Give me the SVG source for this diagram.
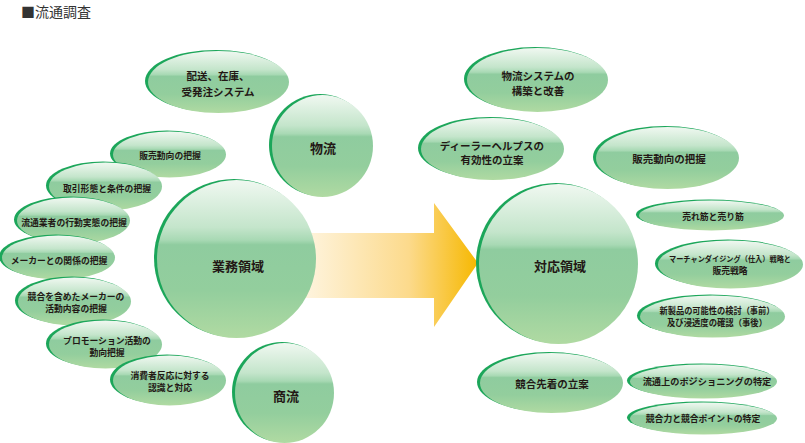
<svg xmlns="http://www.w3.org/2000/svg" width="805" height="443" viewBox="0 0 805 443">
<defs>
<linearGradient id="gg" x1="0" y1="0" x2="0" y2="1">
<stop offset="0" stop-color="#f0f8f1"/>
<stop offset="0.3" stop-color="#c4e5cb"/>
<stop offset="0.38" stop-color="#a8d9b4"/>
<stop offset="0.41" stop-color="#8fcc9f"/>
<stop offset="0.7" stop-color="#93ce9d"/>
<stop offset="1" stop-color="#b0daa2"/>
</linearGradient>
<linearGradient id="ag" gradientUnits="userSpaceOnUse" x1="305" y1="0" x2="478" y2="0">
<stop offset="0" stop-color="#fef4de"/>
<stop offset="0.6" stop-color="#fcda8c"/>
<stop offset="1" stop-color="#f6b800"/>
</linearGradient>
<style>
.rim{fill:#1ca65a}
.bd{fill:url(#gg)}
text{font-family:"Noto Sans CJK JP","Noto Sans CJK SC",sans-serif;fill:#231815;text-anchor:middle;dominant-baseline:central}
.s{font-size:8.8px;font-weight:bold}
.m{font-size:10.5px;font-weight:bold}
.l{font-size:13px;font-weight:bold}
</style>
</defs>
<text x="21" y="11" style="text-anchor:start;font-size:14px;fill:#333">■流通調査</text>
<g id="connectors">
<polygon points="305,233 434,233 434,203 478,263 434,327 434,298 305,298" fill="url(#ag)"/>
</g>
<g id="n1"><ellipse class="rim" cx="216" cy="81" rx="71" ry="31"/><ellipse class="bd" cx="218.5" cy="82" rx="70.5" ry="31"/><text class="m" x="218" y="75">配送、在庫、</text><text class="m" x="218" y="91">受発注システム</text></g>
<g id="n2"><ellipse class="rim" cx="320" cy="145" rx="51" ry="51"/><ellipse class="bd" cx="322.5" cy="146" rx="50.5" ry="51"/><text class="l" x="323" y="147">物流</text></g>
<g id="n3"><ellipse class="rim" cx="167" cy="153.5" rx="57" ry="23"/><ellipse class="bd" cx="169.5" cy="154.5" rx="56.5" ry="23"/><text class="s" x="170" y="155">販売動向の把握</text></g>
<g id="n4"><ellipse class="rim" cx="103" cy="185.5" rx="57" ry="24"/><ellipse class="bd" cx="105.5" cy="186.5" rx="56.5" ry="24"/><text class="s" x="107" y="188">取引形態と条件の把握</text></g>
<g id="n5"><ellipse class="rim" cx="71" cy="219.5" rx="57" ry="23"/><ellipse class="bd" cx="73.5" cy="220.5" rx="56.5" ry="23"/><text class="s" x="74" y="222">流通業者の行動実態の把握</text></g>
<g id="n6"><ellipse class="rim" cx="56" cy="256.5" rx="57" ry="22"/><ellipse class="bd" cx="58.5" cy="257.5" rx="56.5" ry="22"/><text class="s" x="59" y="260">メーカーとの関係の把握</text></g>
<g id="n7"><ellipse class="rim" cx="72" cy="300.5" rx="57" ry="24"/><ellipse class="bd" cx="74.5" cy="301.5" rx="56.5" ry="24"/><text class="s" x="76" y="296">競合を含めたメーカーの</text><text class="s" x="76" y="308">活動内容の把握</text></g>
<g id="n8"><ellipse class="rim" cx="103" cy="343.5" rx="57" ry="24"/><ellipse class="bd" cx="105.5" cy="344.5" rx="56.5" ry="24"/><text class="s" x="107" y="340">プロモーション活動の</text><text class="s" x="107" y="352">動向把握</text></g>
<g id="n9"><ellipse class="rim" cx="167" cy="379.5" rx="57" ry="25"/><ellipse class="bd" cx="169.5" cy="380.5" rx="56.5" ry="25"/><text class="s" x="170" y="375">消費者反応に対する</text><text class="s" x="170" y="387">認識と対応</text></g>
<g id="n10"><ellipse class="rim" cx="234" cy="258" rx="80" ry="79"/><ellipse class="bd" cx="236.5" cy="259" rx="79.5" ry="79"/><text class="l" x="238" y="265">業務領域</text></g>
<g id="n11"><ellipse class="rim" cx="282" cy="392" rx="50" ry="50"/><ellipse class="bd" cx="284.5" cy="393" rx="49.5" ry="50"/><text class="l" x="286" y="395">商流</text></g>
<g id="n12"><ellipse class="rim" cx="535" cy="79" rx="71" ry="32"/><ellipse class="bd" cx="537.5" cy="80" rx="70.5" ry="32"/><text class="m" x="538" y="75">物流システムの</text><text class="m" x="538" y="90">構築と改善</text></g>
<g id="n13"><ellipse class="rim" cx="490" cy="148" rx="72" ry="31"/><ellipse class="bd" cx="492.5" cy="149" rx="71.5" ry="31"/><text class="m" x="492" y="145">ディーラーヘルプスの</text><text class="m" x="492" y="159">有効性の立案</text></g>
<g id="n14"><ellipse class="rim" cx="665" cy="157" rx="72" ry="31"/><ellipse class="bd" cx="667.5" cy="158" rx="71.5" ry="31"/><text class="m" x="669" y="158">販売動向の把握</text></g>
<g id="n15"><ellipse class="rim" cx="556" cy="263" rx="80" ry="80"/><ellipse class="bd" cx="558.5" cy="264" rx="79.5" ry="80"/><text class="l" x="560" y="265">対応領域</text></g>
<g id="n16"><ellipse class="rim" cx="709" cy="214.5" rx="73" ry="15"/><ellipse class="bd" cx="711.5" cy="215.5" rx="72.5" ry="15"/><text class="s" x="713" y="216">売れ筋と売り筋</text></g>
<g id="n17"><ellipse class="rim" cx="728" cy="263.5" rx="73" ry="24"/><ellipse class="bd" cx="730.5" cy="264.5" rx="72.5" ry="24"/><text class="s" x="730" y="258" style="font-size:7.6px" textLength="122" lengthAdjust="spacingAndGlyphs">マーチャンダイジング（仕入）戦略と</text><text class="s" x="730" y="270">販売戦略</text></g>
<g id="n18"><ellipse class="rim" cx="710" cy="315.5" rx="73" ry="21"/><ellipse class="bd" cx="712.5" cy="316.5" rx="72.5" ry="21"/><text class="s" x="717" y="310" textLength="115" lengthAdjust="spacingAndGlyphs">新製品の可能性の検討（事前）</text><text class="s" x="717" y="322" textLength="100" lengthAdjust="spacingAndGlyphs">及び浸透度の確認（事後）</text></g>
<g id="n19"><ellipse class="rim" cx="549" cy="382" rx="72" ry="30"/><ellipse class="bd" cx="551.5" cy="383" rx="71.5" ry="30"/><text class="m" x="552" y="383">競合先着の立案</text></g>
<g id="n20"><ellipse class="rim" cx="701" cy="380.5" rx="74" ry="17"/><ellipse class="bd" cx="703.5" cy="381.5" rx="73.5" ry="17"/><text class="s" x="707" y="381" style="font-size:9.2px">流通上のポジショニングの特定</text></g>
<g id="n21"><ellipse class="rim" cx="701" cy="417.5" rx="74" ry="16"/><ellipse class="bd" cx="703.5" cy="418.5" rx="73.5" ry="16"/><text class="s" x="703" y="418">競合力と競合ポイントの特定</text></g>
</svg>
